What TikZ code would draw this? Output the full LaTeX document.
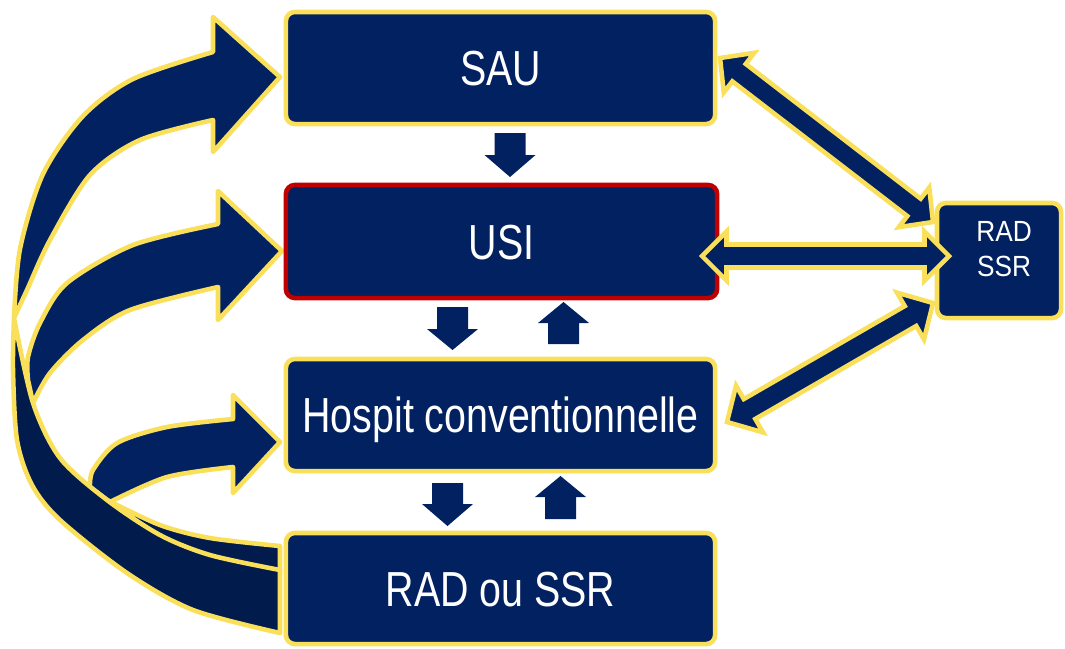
\documentclass[tikz,border=0pt]{standalone}
\usepackage{fontspec}
\newfontfamily\boxfont{Liberation Sans}[FakeStretch=0.8]
\newfontfamily\smallboxfont{Liberation Sans}[FakeStretch=0.9]
\usetikzlibrary{calc}
\definecolor{navy}{RGB}{2,33,96}
\definecolor{navydark}{RGB}{1,27,76}
\definecolor{gold}{RGB}{250,223,90}
\definecolor{boxred}{RGB}{192,0,0}
\tikzset{
  box/.style={draw=gold, fill=navy, line width=1.3pt, rounded corners=0.9mm,
    text=white, font=\boxfont\fontsize{14}{16}\selectfont,
    text height=10pt, text depth=0pt, inner sep=0pt},
  redbox/.style={box, draw=boxred},
  smalltext/.style={text=white, font=\smallboxfont\fontsize{8.3}{10}\selectfont, align=center, inner sep=0pt},
  ribbon/.style={fill=navy, draw=gold, line width=1.3pt, line join=round},
  ribbonback/.style={fill=navydark, draw=gold, line width=1.3pt, line join=round},
  dblstyle/.style={fill=navy, draw=gold, line width=1.3pt, line join=miter},
  smallarrow/.style={fill=navy}
}
\newcommand\myDblArrow[5]{%
  \coordinate (da1) at ($(#1)!#5!(#2)$);
  \coordinate (da2) at ($(#2)!#5!(#1)$);
  \filldraw[dblstyle] (#1) -- ($(da1)!#4!90:(#2)$) -- ($(da1)!#3!90:(#2)$)
    -- ($(da2)!#3!-90:(#1)$) -- ($(da2)!#4!-90:(#1)$) -- (#2)
    -- ($(da2)!#4!90:(#1)$) -- ($(da2)!#3!90:(#1)$)
    -- ($(da1)!#3!-90:(#2)$) -- ($(da1)!#4!-90:(#2)$) -- cycle;}
\newcommand\mySmallArrow[4]{%
  \fill[smallarrow] (#1-15.5,#2) -- (#1+15.5,#2) -- (#1+15.5,#3) -- (#1+25.5,#3)
    -- (#1,#4) -- (#1-25.5,#3) -- (#1-15.5,#3) -- cycle;}
\begin{document}
\begin{tikzpicture}[x=0.01cm,y=-0.01cm]
\useasboundingbox (0,0) rectangle (1065,648);

% curved arrow to Hospit (C) - front
\filldraw[ribbon] (233,419) -- (233,395) -- (280,442) -- (233,493) -- (233,467)
  -- plot[smooth] coordinates {(233,467) (167,477) (110,502)}
  -- (90,487)
  -- plot[smooth] coordinates {(90,487) (93,470) (117,443) (167,427) (233,419)} -- cycle;
% C back
\filldraw[ribbonback] (107,500)
  -- plot[smooth] coordinates {(107,500) (160,525) (210,538) (280,546)}
  -- (280,572)
  -- plot[smooth] coordinates {(280,572) (210,556) (160,536) (107,500)} -- cycle;

% curved arrow to USI (B) - front
\filldraw[ribbon] (218,224) -- (218,191) -- (282,251) -- (218,320) -- (218,287)
  -- plot[smooth] coordinates {(218,287) (130,310) (83,340) (50,373) (33,403)}
  -- (28,380)
  -- plot[smooth] coordinates {(28,380) (28,357) (40,323) (67,283) (133,245) (218,224)} -- cycle;

% curved arrow to SAU (A) - front
\filldraw[ribbon] (213,52) -- (213,17) -- (280,77) -- (213,152) -- (213,120)
  -- plot[smooth] coordinates {(213,120) (140,140) (90,175) (50,240) (27,290) (14,318)}
  -- plot[smooth] coordinates {(14,318) (20,249) (43,174) (83,116) (133,79) (213,52)} -- cycle;
% A back
\filldraw[ribbonback] (14,318)
  -- plot[smooth] coordinates {(14,318) (13,370) (17,440) (32,485) (60,520) (127,573) (193,610) (280,633)}
  -- (280,570)
  -- plot[smooth] coordinates {(280,570) (210,555) (160,535) (107,500) (60,458) (33,403) (14,318)} -- cycle;

% boxes
\node[box, minimum width=4.29cm, minimum height=1.12cm] (sau) at (500.5,68) {SAU};
\node[redbox, minimum width=4.31cm, minimum height=1.13cm] (usi) at (501.5,241.5) {USI};
\node[box, minimum width=4.29cm, minimum height=1.12cm] (hospit) at (500.5,415) {Hospit conventionnelle};
\node[box, minimum width=4.29cm, minimum height=1.11cm] (radou) at (500.5,588.5) {RAD ou SSR};
\node[box, minimum width=1.24cm, minimum height=1.15cm] (radssr) at (999,260.5) {};
\node[smalltext] (radssrtext) at (1004,249) {RAD\\SSR};

% small vertical arrows
\mySmallArrow{510}{133}{155}{177}
\mySmallArrow{452.5}{307}{329}{350}
\mySmallArrow{563.5}{344}{323}{302}
\mySmallArrow{447.5}{483}{504}{526}
\mySmallArrow{560.5}{519}{497}{476}

% double arrows to RAD SSR
\coordinate (s1) at (720,58);  \coordinate (r1) at (933,222);
\coordinate (s2) at (702,256); \coordinate (r2) at (949,256);
\coordinate (s3) at (727,422); \coordinate (r3) at (933,303);
\myDblArrow{s1}{r1}{1.1mm}{2.5mm}{2.4mm}
\myDblArrow{s2}{r2}{1.15mm}{2.45mm}{2.45mm}
\myDblArrow{s3}{r3}{1.15mm}{2.7mm}{2.6mm}
\end{tikzpicture}
\end{document}
